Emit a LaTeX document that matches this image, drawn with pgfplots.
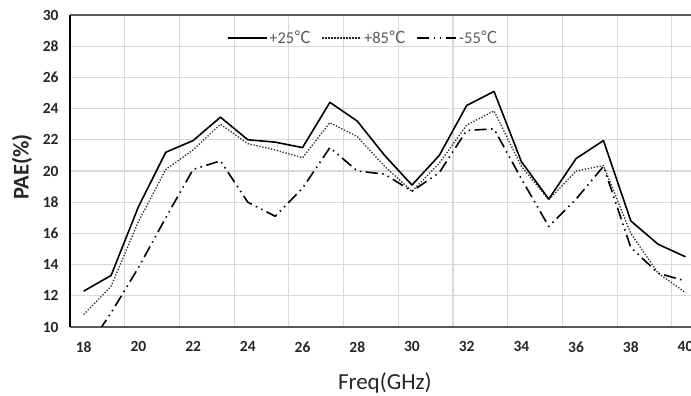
\documentclass[border=0pt]{standalone}
\usepackage{fontspec}
\setmainfont{Carlito}
\newfontfamily\cjk{Noto Sans CJK SC}
\usepackage{pgfplots}
\pgfplotsset{compat=1.18}
\definecolor{gridgray}{HTML}{D9D9D9}
\definecolor{axgray}{HTML}{595959}
\definecolor{txtgray}{HTML}{595959}
\definecolor{ticktxt}{HTML}{262626}
\begin{document}
\begin{tikzpicture}[x=1pt,y=1pt]
\useasboundingbox (0,0) rectangle (691,396);
\begin{axis}[
  at={(70pt,69pt)}, anchor=south west,
  width=621pt, height=312pt, scale only axis,
  xmin=17.5, xmax=40.2, ymin=10, ymax=30,
  xtick={18,20,...,40}, ytick={10,12,...,30},
  minor xtick={19.5,21.5,...,39.5},
  xminorgrids, ymajorgrids,
  grid style={gridgray, line width=1.1pt},
  minor grid style={gridgray, line width=1.1pt},
  major tick length=0pt, minor tick length=0pt,
  axis x line=box, axis y line=left,
  every outer x axis line/.append style={-},
  every outer y axis line/.append style={-},
  x axis line style={-, axgray, line width=1.3pt},
  y axis line style={-, black, line width=1.3pt},
  /pgf/number format/assume math mode=true,
  ticklabel style={font=\fontsize{15.5}{16}\selectfont\bfseries, color=ticktxt},
  xticklabel style={yshift=-11pt},
  yticklabel style={xshift=-8pt},
  xlabel={Freq(GHz)},
  xlabel style={at={(axis description cs:0.507,-0.179)}, anchor=center, font=\fontsize{23}{24}\selectfont, color=ticktxt},
  ylabel={PAE(\%)},
  ylabel style={at={(axis description cs:-0.0773,0.513)}, anchor=center, font=\fontsize{22.5}{24}\selectfont\bfseries, color=ticktxt},
  legend style={at={(axis description cs:0.472,0.926)}, anchor=center, draw=none, fill=none,
    legend columns=3, font=\fontsize{16.5}{17}\selectfont\color{txtgray},
    /tikz/every even column/.append style={column sep=9pt}},
  legend image code/.code={\draw[#1] (0pt,0pt) -- (39pt,0pt);},
  every axis plot/.append style={line join=round},
]
\addplot[black, line width=1.6pt] coordinates {
(18,12.3) (19,13.3) (20,17.7) (21,21.2) (22,21.95) (23,23.45) (24,22.0) (25,21.85)
(26,21.5) (27,24.4) (28,23.2) (29,21.0) (30,19.1) (31,21.0) (32,24.2) (33,25.1)
(34,20.6) (35,18.2) (36,20.8) (37,21.95) (38,16.8) (39,15.3) (40,14.5)};
\addlegendentry{+25{\cjk ℃}}
\addplot[black!85, line width=1.3pt, dash pattern=on 1.3pt off 1.7pt] coordinates {
(18,10.8) (19,12.6) (20,16.75) (21,20.1) (22,21.35) (23,23.0) (24,21.75) (25,21.35)
(26,20.85) (27,23.1) (28,22.2) (29,20.3) (30,18.7) (31,20.5) (32,22.95) (33,23.85)
(34,20.3) (35,18.15) (36,20.0) (37,20.35) (38,16.0) (39,13.45) (40,12.2)};
\addlegendentry{+85{\cjk ℃}}
\addplot[black, line width=1.6pt, dash pattern=on 12pt off 4.5pt on 1.5pt off 4.5pt on 1.5pt off 4.5pt] coordinates {
(18,8.3) (19,10.9) (20,13.8) (21,17.0) (22,20.1) (23,20.65) (24,18.0) (25,17.1)
(26,18.9) (27,21.5) (28,20.0) (29,19.8) (30,18.7) (31,19.9) (32,22.6) (33,22.7)
(34,19.5) (35,16.45) (36,18.2) (37,20.3) (38,15.1) (39,13.45) (40,12.95)};
\addlegendentry{-55{\cjk ℃}}
\end{axis}
\end{tikzpicture}
\end{document}
